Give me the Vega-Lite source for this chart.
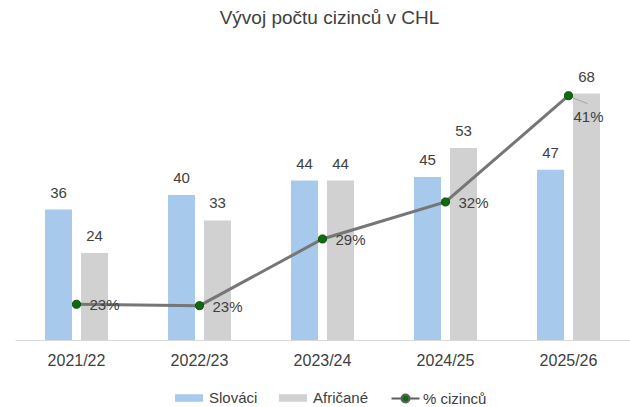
{
  "$schema": "https://vega.github.io/schema/vega-lite/v6.json",
  "width": 615,
  "height": 290,
  "autosize": {"type": "none"},
  "padding": {"left": 15, "top": 50, "right": 0, "bottom": 67},
  "background": "white",
  "config": {
    "view": {"stroke": null},
    "font": "Liberation Sans",
    "legend": {"symbolSize": 784, "labelOffset": 5, "columnPadding": 20, "labelFontSize": 15, "labelColor": "#404040", "padding": 0}
  },
  "title": {"text": "Vývoj počtu cizinců v CHL", "fontSize": 19, "fontWeight": "normal", "color": "#404040", "offset": 22, "dx": 7},
  "datasets": {
    "bars": [
      {"year": "2021/22", "series": "Slováci", "count": 36},
      {"year": "2021/22", "series": "Afričané", "count": 24},
      {"year": "2022/23", "series": "Slováci", "count": 40},
      {"year": "2022/23", "series": "Afričané", "count": 33},
      {"year": "2023/24", "series": "Slováci", "count": 44},
      {"year": "2023/24", "series": "Afričané", "count": 44},
      {"year": "2024/25", "series": "Slováci", "count": 45},
      {"year": "2024/25", "series": "Afričané", "count": 53},
      {"year": "2025/26", "series": "Slováci", "count": 47},
      {"year": "2025/26", "series": "Afričané", "count": 68}
    ],
    "line": [
      {"year": "2021/22", "series": "% cizinců", "pct": 0.2308},
      {"year": "2022/23", "series": "% cizinců", "pct": 0.2296},
      {"year": "2023/24", "series": "% cizinců", "pct": 0.2871},
      {"year": "2024/25", "series": "% cizinců", "pct": 0.319},
      {"year": "2025/26", "series": "% cizinců", "pct": 0.4106}
    ]
  },
  "encoding": {
    "x": {
      "field": "year", "type": "nominal", "sort": null, "title": null,
      "scale": {"paddingInner": 0.488, "paddingOuter": 0.244},
      "axis": {"labelAngle": 0, "ticks": false, "domainColor": "#d9d9d9", "domainWidth": 1, "labelFontSize": 16, "labelColor": "#404040", "labelPadding": 12}
    }
  },
  "layer": [
    {
      "data": {"name": "bars"},
      "mark": {"type": "bar", "stroke": null},
      "encoding": {
        "xOffset": {"field": "series", "type": "nominal", "sort": ["Slováci", "Afričané"], "scale": {"paddingInner": 0.25, "paddingOuter": 0}},
        "y": {"field": "count", "type": "quantitative", "scale": {"domain": [0, 80]}, "axis": null},
        "color": {
          "field": "series", "type": "nominal", "title": null,
          "scale": {"domain": ["Slováci", "Afričané"], "range": ["#a6c9ec", "#d1d1d1"]},
          "legend": {
            "orient": "none", "direction": "horizontal", "legendX": 159, "legendY": 333,
            "symbolType": "M-1,-0.27H1V0.27H-1Z"
          }
        }
      }
    },
    {
      "data": {"name": "bars"},
      "mark": {"type": "text", "baseline": "alphabetic", "align": "center", "dy": -12, "fontSize": 15, "color": "#404040"},
      "encoding": {
        "xOffset": {"field": "series", "type": "nominal", "sort": ["Slováci", "Afričané"]},
        "y": {"field": "count", "type": "quantitative", "scale": {"domain": [0, 80]}, "axis": null},
        "text": {"field": "count", "type": "quantitative"}
      }
    },
    {
      "data": {"name": "line"},
      "mark": {"type": "line", "color": "#767676", "strokeWidth": 3},
      "encoding": {"y": {"field": "pct", "type": "quantitative", "scale": {"domain": [0.2, 0.45]}, "axis": null}}
    },
    {
      "data": {"name": "line"},
      "transform": [{"filter": "datum.year === '2025/26'"}],
      "mark": {"type": "rule", "color": "#a6a6a6", "strokeWidth": 1, "xOffset": 4, "yOffset": 2, "x2Offset": 19, "y2Offset": 8},
      "encoding": {"y": {"field": "pct", "type": "quantitative", "scale": {"domain": [0.2, 0.45]}, "axis": null}, "x2": {"field": "year"}, "y2": {"field": "pct"}}
    },
    {
      "data": {"name": "line"},
      "mark": {"type": "point", "filled": true, "size": 65, "color": "#0e6b0e", "stroke": "#0a4d0a", "strokeWidth": 1, "opacity": 1},
      "encoding": {
        "y": {"field": "pct", "type": "quantitative", "scale": {"domain": [0.2, 0.45]}, "axis": null}
      }
    },
    {
      "data": {"name": "line"},
      "transform": [{"filter": "false"}],
      "mark": {"type": "point", "filled": true},
      "encoding": {
        "y": {"field": "pct", "type": "quantitative", "scale": {"domain": [0.2, 0.45]}, "axis": null},
        "fill": {
          "field": "series", "type": "nominal", "title": null,
          "scale": {"domain": ["% cizinců"], "range": ["#0e6b0e"]},
          "legend": {"orient": "none", "direction": "horizontal", "legendX": 375, "legendY": 333, "symbolStrokeWidth": 2.2, "symbolOpacity": 1, "labelOffset": 2}
        },
        "stroke": {
          "field": "series", "type": "nominal", "title": null,
          "scale": {"domain": ["% cizinců"], "range": ["#5f5f5f"]},
          "legend": {"orient": "none", "direction": "horizontal", "legendX": 375, "legendY": 333, "symbolStrokeWidth": 2.2, "symbolOpacity": 1, "labelOffset": 2}
        },
        "shape": {
          "field": "series", "type": "nominal", "title": null,
          "scale": {"domain": ["% cizinců"], "range": ["M-1,0H-0.28M0.28,0H1M-0.28,0A0.28,0.28 0 1,1 0.28,0A0.28,0.28 0 1,1 -0.28,0Z"]},
          "legend": {"orient": "none", "direction": "horizontal", "legendX": 375, "legendY": 333, "symbolStrokeWidth": 2.2, "symbolOpacity": 1, "labelOffset": 2}
        }
      }
    },
    {
      "data": {"name": "line"},
      "transform": [{"filter": "datum.year !== '2025/26'"}],
      "mark": {"type": "text", "align": "left", "baseline": "middle", "dx": 13, "dy": 1, "fontSize": 15, "color": "#404040"},
      "encoding": {
        "y": {"field": "pct", "type": "quantitative", "scale": {"domain": [0.2, 0.45]}, "axis": null},
        "text": {"field": "pct", "type": "quantitative", "format": ".0%"}
      }
    },
    {
      "data": {"name": "line"},
      "transform": [{"filter": "datum.year === '2025/26'"}],
      "mark": {"type": "text", "align": "left", "baseline": "middle", "dx": 5, "dy": 21, "fontSize": 15, "color": "#404040"},
      "encoding": {
        "y": {"field": "pct", "type": "quantitative", "scale": {"domain": [0.2, 0.45]}, "axis": null},
        "text": {"field": "pct", "type": "quantitative", "format": ".0%"}
      }
    }
  ],
  "resolve": {"scale": {"y": "independent"}}
}
